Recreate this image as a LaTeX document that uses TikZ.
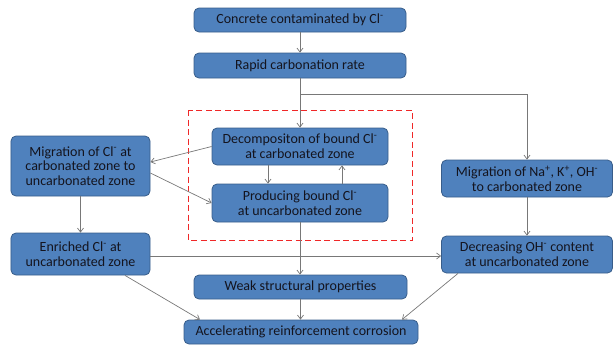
\documentclass[tikz,border=0pt]{standalone}
\usepackage{fontspec}
\setmainfont{Carlito}
\usetikzlibrary{arrows.meta}
\definecolor{boxfill}{RGB}{79,129,189}
\definecolor{boxline}{RGB}{56,93,138}
\definecolor{txt}{RGB}{20,20,30}
\definecolor{arrgray}{RGB}{120,120,120}
\definecolor{dashred}{RGB}{240,40,40}
\begin{document}
\begin{tikzpicture}[x=1bp,y=-1bp,
  flowbox/.style={draw=boxline,line width=0.8bp,fill=boxfill,rounded corners=5bp,
    text=txt,font=\fontsize{14bp}{14.8bp}\selectfont,align=center,inner sep=0pt},
  arr/.style={draw=arrgray,line width=0.7bp,-{Straight Barb[length=4bp,width=6bp]}},
  ln/.style={draw=arrgray,line width=0.7bp}]
\useasboundingbox (0,0) rectangle (613,347);
\draw[dashred,line width=1bp,dash pattern=on 6bp off 3.5bp] (188,110) rectangle (412,240);
\node[flowbox,minimum width=212bp,minimum height=24bp] (b1) at (300,20) {Concrete contaminated by Cl\textsuperscript{-}};
\node[flowbox,minimum width=212bp,minimum height=25bp] (b2) at (300,65.5) {Rapid carbonation rate};
\node[flowbox,minimum width=176bp,minimum height=37bp] (dec) at (300,146.5) {Decompositon of bound Cl\textsuperscript{-}\\at carbonated zone};
\node[flowbox,minimum width=176bp,minimum height=38bp] (prod) at (300,203) {Producing bound Cl\textsuperscript{-}\\at uncarbonated zone};
\node[flowbox,minimum width=139bp,minimum height=60bp] (mcl) at (80.5,166) {Migration of Cl\textsuperscript{-} at\\carbonated zone to\\uncarbonated zone};
\node[flowbox,minimum width=139bp,minimum height=42bp] (enr) at (80.5,254) {Enriched Cl\textsuperscript{-} at\\uncarbonated zone};
\node[flowbox,minimum width=171bp,minimum height=37bp] (mna) at (527,178.5) {Migration of Na\textsuperscript{+}, K\textsuperscript{+}, OH\textsuperscript{-}\\to carbonated zone};
\node[flowbox,minimum width=171bp,minimum height=37bp] (decr) at (527,254.5) {Decreasing OH\textsuperscript{-} content\\at uncarbonated zone};
\node[flowbox,minimum width=213bp,minimum height=24bp] (weak) at (300.5,287) {Weak structural properties};
\node[flowbox,minimum width=234bp,minimum height=24bp] (acc) at (301,332) {Accelerating reinforcement corrosion};
\coordinate (br) at (300,94);
\draw[arr] (b1.south) -- (b2.south |- b1.south) -- (b2.north);
\draw[arr] (b2.south) -- (dec.north);
\draw[arr] (br) -| (mna.north);
\draw[arr] ([xshift=-32bp]dec.south) -- ([xshift=-32bp]prod.north);
\draw[arr] ([xshift=42bp]prod.north) -- ([xshift=42bp]dec.south);
\draw[arr] (dec.west) -- ([yshift=4bp]mcl.east);
\draw[arr] ([yshift=-7bp]mcl.east) -- (prod.west);
\draw[arr] (mcl.south) -- (enr.north);
\draw[arr] ([yshift=-2bp]enr.east) -- ([yshift=-2bp]enr.east -| decr.west);
\draw[arr] (mna.south) -- (decr.north);
\draw[arr] (prod.south) -- (prod.south |- weak.north);
\draw[arr] (weak.south) -- (weak.south |- acc.north);
\draw[arr] ([xshift=44.5bp]enr.south) -- ([xshift=-101bp]acc.north);
\draw[arr] ([xshift=-69bp]decr.south) -- ([xshift=101bp]acc.north);
\end{tikzpicture}
\end{document}
